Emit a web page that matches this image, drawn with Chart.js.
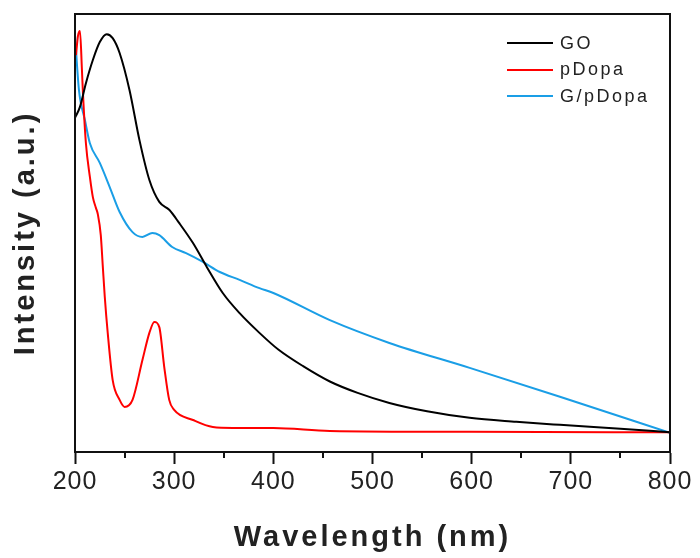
<!DOCTYPE html>
<html>
<head>
<meta charset="utf-8">
<script src="https://cdn.jsdelivr.net/npm/chart.js@4.4.0/dist/chart.umd.min.js"></script>
<style>
  body { margin: 0; background: #fff; }
  #wrap { position: relative; width: 700px; height: 558px; }
  #legend {
    position: absolute; left: 507px; top: 30px;
    font: 18px "Liberation Sans", Arial, sans-serif;
    letter-spacing: 2.5px; color: #222;
  }
  #legend .item { display: flex; align-items: center; height: 26.5px; }
  #legend .swatch { display: inline-block; width: 46px; height: 2px; margin-right: 7px; }
</style>
</head>
<body>
<div id="wrap">
  <canvas id="uvChart" width="700" height="558"></canvas>
  <div id="legend"></div>
</div>
<script>
// UV-vis spectra, intensity in arbitrary units (0-100 across the plot height)
const goWl = [200, 205, 211, 218, 225, 232, 238, 245, 255, 265, 275, 285, 295, 305, 319, 333, 349, 366, 386, 405, 430, 457, 485, 517, 555, 598, 645, 689, 750, 800];
const goAbs = [76.3, 78.8, 84.2, 89.5, 93.6, 95.4, 94.5, 91.1, 82.6, 71.2, 62.1, 57.1, 55.3, 52.3, 47.7, 42.2, 36.3, 31.7, 27.2, 23.4, 19.6, 16.1, 13.5, 11.2, 9.3, 7.8, 6.9, 6.2, 5.3, 4.5];

const dopaWl = [201, 203, 205, 207, 208, 211, 215, 218, 221, 223, 226, 228, 230, 233, 238, 245, 250, 258, 268, 275, 280, 285, 290, 295, 300, 319, 339, 359, 400, 457, 598, 800];
const dopaAbs = [90.6, 95.0, 96.1, 87.2, 82.0, 70.5, 62.8, 58.2, 55.8, 54.3, 49.5, 42.5, 35.5, 27.2, 16.4, 11.9, 10.3, 11.9, 21.0, 27.2, 29.7, 28.5, 19.4, 11.9, 9.6, 7.3, 5.7, 5.5, 5.5, 4.8, 4.6, 4.5];

const gdopaWl = [200, 204, 210, 215, 225, 235, 245, 258, 268, 278, 285, 298, 312, 329, 346, 366, 386, 400, 457, 517, 598, 689, 800];
const gdopaAbs = [95.2, 82.6, 75.8, 70.5, 66.0, 60.5, 54.8, 50.2, 49.1, 50.0, 49.5, 46.8, 45.4, 43.4, 41.1, 39.3, 37.4, 36.3, 30.1, 24.9, 19.2, 12.6, 4.4];

const seriesNames = ['GO', 'pDopa', 'G/pDopa'];
const xTicks = [200, 300, 400, 500, 600, 700, 800];
const xMinorTicks = [250, 350, 450, 550, 650, 750];

const toPoints = (xs, ys) => xs.map((x, i) => ({ x: x, y: ys[i] }));

// html legend built from the datasets
const htmlLegend = {
    id: 'htmlLegend',
    afterUpdate(chart) {
        const box = document.getElementById('legend');
        box.innerHTML = '';
        chart.data.datasets.forEach(ds => {
            const row = document.createElement('div');
            row.className = 'item';
            const sw = document.createElement('span');
            sw.className = 'swatch';
            sw.style.background = ds.borderColor;
            const lb = document.createElement('span');
            lb.textContent = ds.label;
            row.append(sw, lb);
            box.append(row);
        });
    }
};

// frame round the plot + short minor ticks
const frame = {
    id: 'frame',
    afterDraw(chart) {
        const { ctx, chartArea: a } = chart;
        const x = chart.scales.x;
        ctx.save();
        ctx.strokeStyle = '#111';
        ctx.lineWidth = 2;
        ctx.strokeRect(a.left, a.top, a.right - a.left, a.bottom - a.top);
        ctx.beginPath();
        xMinorTicks.forEach(v => {
            const px = Math.round(x.getPixelForValue(v));
            ctx.moveTo(px, a.bottom);
            ctx.lineTo(px, a.bottom + 6);
        });
        ctx.stroke();
        ctx.restore();
    }
};

// the original lettering is spaced out a bit
const spacing = {
    id: 'spacing',
    beforeDraw(chart) {
        const ctx = chart.ctx;
        Object.values(chart.scales).forEach(s => {
            if (s.spaced) return;
            s.spaced = true;
            const title = s.drawTitle, labels = s.drawLabels;
            s.drawTitle = function () {
                ctx.save(); ctx.letterSpacing = '3px';
                title.apply(this, arguments);
                ctx.restore();
            };
            s.drawLabels = function () {
                ctx.save(); ctx.letterSpacing = '1px';
                labels.apply(this, arguments);
                ctx.restore();
            };
        });
    }
};

const ctx = document.getElementById('uvChart').getContext('2d');
new Chart(ctx, {
    type: 'line',
    data: {
        datasets: [{
            label: seriesNames[0],
            data: toPoints(goWl, goAbs),
            borderColor: '#000000'
        }, {
            label: seriesNames[1],
            data: toPoints(dopaWl, dopaAbs),
            borderColor: '#ff0000'
        }, {
            label: seriesNames[2],
            data: toPoints(gdopaWl, gdopaAbs),
            borderColor: '#1a9ee6'
        }]
    },
    options: {
        responsive: false,
        animation: false,
        parsing: false,
        elements: {
            point: { radius: 0 },
            line: { borderWidth: 2, cubicInterpolationMode: 'monotone', fill: false }
        },
        layout: { padding: { top: 14, right: 30, bottom: 0, left: 0 } },
        plugins: {
            legend: { display: false },
            tooltip: { enabled: false }
        },
        scales: {
            x: {
                type: 'linear',
                min: 200,
                max: 800,
                afterBuildTicks: scale => { scale.ticks = xTicks.map(v => ({ value: v })); },
                afterFit: scale => { scale.height = 106; },
                grid: { display: true, drawOnChartArea: false, drawTicks: true, tickLength: 12, tickWidth: 2, tickColor: '#111' },
                border: { color: '#111', width: 2 },
                ticks: {
                    color: '#222',
                    padding: 3,
                    maxRotation: 0,
                    font: { family: '"Liberation Sans", Arial, sans-serif', size: 25 }
                },
                title: {
                    display: true,
                    text: 'Wavelength (nm)',
                    color: '#222',
                    padding: { top: 0, bottom: 3 },
                    font: { family: '"Liberation Sans", Arial, sans-serif', size: 29, weight: 'bold' }
                }
            },
            y: {
                min: 0,
                max: 100,
                afterFit: scale => { scale.width = 75; },
                grid: { display: false },
                border: { color: '#111', width: 2 },
                ticks: { display: false },
                title: {
                    display: true,
                    text: 'Intensity (a.u.)',
                    color: '#222',
                    padding: { top: 9, bottom: 0 },
                    font: { family: '"Liberation Sans", Arial, sans-serif', size: 29, weight: 'bold' }
                }
            }
        }
    },
    plugins: [htmlLegend, frame, spacing]
});
</script>
</body>
</html>
